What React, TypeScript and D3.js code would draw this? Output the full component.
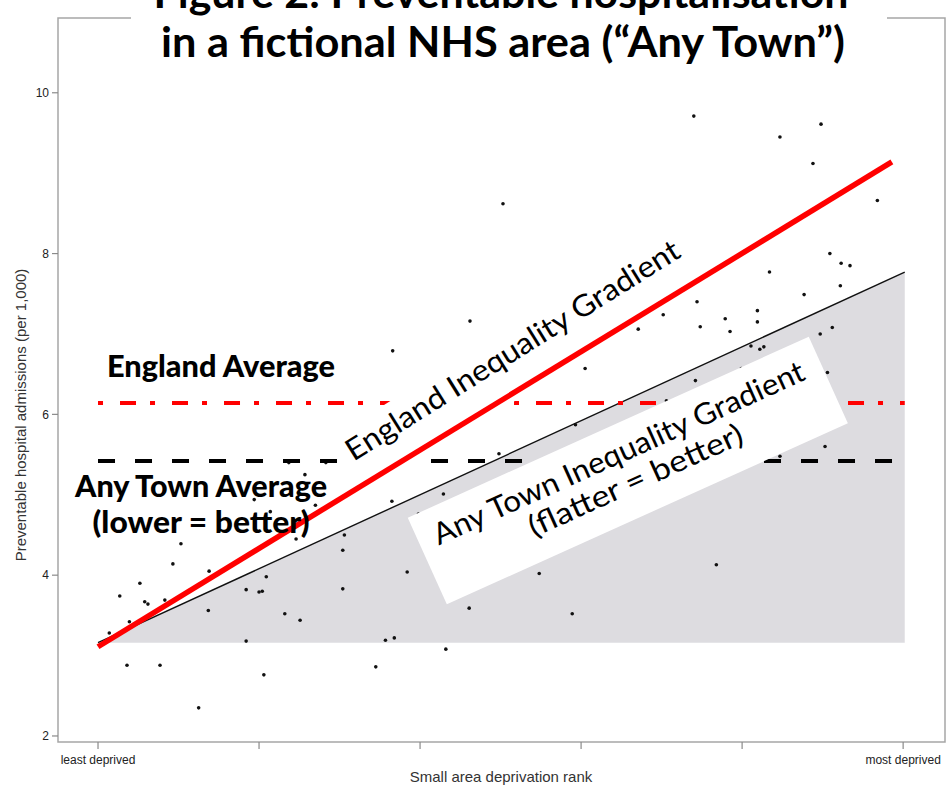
import * as d3 from 'd3';

// deprivation rank runs 0 (least deprived) .. 100 (most deprived)
const rankTicks = [0, 20, 40, 60, 80, 100];
const rankTickLabels = ['least deprived', '', '', '', '', 'most deprived'];
const rateTicks = [2, 4, 6, 8, 10];

// small areas in Any Town
const areaRank = [
  74.0, 89.8, 84.7, 88.8, 96.8, 50.3, 46.2, 36.6, 90.9, 92.3,
  93.4, 83.4, 92.2, 87.7, 74.4, 70.2, 81.9, 77.9, 81.9, 67.1,
  74.8, 78.5, 89.7, 91.2, 81.1, 82.2, 82.7, 60.5, 79.9, 74.2,
  90.6, 70.6, 59.3, 90.3, 49.8, 46.3, 42.9, 36.5, 39.8, 38.4,
  54.8, 76.8, 46.1, 58.9, 35.7, 36.8, 43.2, 21.4, 27.0, 24.6,
  10.3, 30.6, 30.4, 9.3, 13.8, 5.2, 2.7, 5.8, 6.2, 8.3,
  20.9, 18.4, 20.0, 20.4, 30.4, 13.7, 23.2, 25.1, 3.9, 1.4,
  18.4, 3.6, 7.7, 34.5, 20.6, 12.5, 23.7, 28.3, 25.7, 19.4,
  84.7,
];
const areaRate = [
  9.71, 9.61, 9.45, 9.12, 8.66, 8.62, 7.16, 6.79, 8.00, 7.88,
  7.85, 7.77, 7.60, 7.49, 7.40, 7.24, 7.29, 7.19, 7.15, 7.06,
  7.09, 7.03, 7.00, 7.08, 6.85, 6.81, 6.84, 6.57, 6.57, 6.42,
  6.52, 6.17, 5.87, 5.60, 5.51, 5.42, 5.01, 4.92, 4.76, 4.04,
  4.02, 4.13, 3.59, 3.52, 3.19, 3.22, 3.08, 4.79, 4.87, 4.45,
  4.39, 4.50, 4.31, 4.14, 4.05, 3.90, 3.74, 3.67, 3.64, 3.69,
  3.98, 3.82, 3.79, 3.80, 3.83, 3.56, 3.52, 3.44, 3.42, 3.28,
  3.18, 2.88, 2.88, 2.86, 2.76, 2.35, 5.40, 5.40, 5.25, 4.94,
  5.48,
];

const englandGradientRank = [0, 98.6];
const englandGradientRate = [3.11, 9.14];
const anyTownGradientRank = [0, 100.2];
const anyTownGradientRate = [3.16, 7.77];
const englandAverage = 6.14;
const anyTownAverage = 5.42;

const W = 949;
const H = 789;
const plot = { left: 58, right: 945, top: 18, bottom: 742 };

const sans = "'Liberation Sans', Arial, sans-serif";
const label = "Lato, 'Open Sans', sans-serif";

export default function App() {
  const x = d3.scaleLinear().domain([-4.97, 105.2]).range([plot.left, plot.right]);
  const y = d3.scaleLinear().domain([1.925, 10.93]).range([plot.bottom, plot.top]);

  const seg = (rk: number[], rt: number[]) =>
    d3.line<number>().x(i => x(rk[i])).y(i => y(rt[i]))([0, 1]) ?? '';

  const floor = anyTownGradientRate[0];
  const fill = d3.area<number>()
    .x(i => x(anyTownGradientRank[i]))
    .y0(() => y(floor))
    .y1(i => y(anyTownGradientRate[i]))([0, 1]) ?? '';

  const avgStart = x(0);
  const avgEnd = x(anyTownGradientRank[1]);

  return (
    <svg width={W} height={H} style={{ position: 'absolute', left: 0, top: 0, background: '#fff' }}>
      {/* panel frame */}
      <rect x={plot.left} y={plot.top} width={plot.right - plot.left} height={plot.bottom - plot.top}
        fill="none" stroke="#a6a6a6" strokeWidth={1.5} />

      <path d={fill} fill="#dddce0" />

      {areaRank.map((r, i) => (
        <circle key={i} cx={x(r)} cy={y(areaRate[i])} r={1.8} fill="#111" />
      ))}

      <path d={seg(anyTownGradientRank, anyTownGradientRate)} stroke="#111" strokeWidth={1.4} fill="none" />

      <line x1={avgStart} x2={avgEnd} y1={y(englandAverage)} y2={y(englandAverage)}
        stroke="#ff0000" strokeWidth={4} strokeDasharray="5 17 16 14" />
      <line x1={avgStart} x2={avgEnd} y1={y(anyTownAverage)} y2={y(anyTownAverage)}
        stroke="#000" strokeWidth={4} strokeDasharray="17 20" />

      {/* white label boxes */}
      <g transform="translate(518,359) rotate(-32)">
        <rect x={-205} y={-32} width={410} height={66} fill="#fff" />
      </g>
      <g transform="translate(628,471) rotate(-24.3)">
        <rect x={-220} y={-48} width={440} height={95} fill="#fff" />
      </g>

      <path d={seg(englandGradientRank, englandGradientRate)} stroke="#ff0000" strokeWidth={5.5} fill="none" />

      <g transform="translate(518,359) rotate(-32)">
        <text x={0} y={0} textAnchor="middle" fontFamily={label} fontSize={30}
          textLength={388} lengthAdjust="spacingAndGlyphs" fill="#000">England Inequality Gradient</text>
      </g>
      <g transform="translate(628,471) rotate(-24.3)">
        <text x={-1} y={-10} textAnchor="middle" fontFamily={label} fontSize={30}
          textLength={404} lengthAdjust="spacingAndGlyphs" fill="#000">Any Town Inequality Gradient</text>
        <text x={3} y={22} textAnchor="middle" fontFamily={label} fontSize={30}
          textLength={232} lengthAdjust="spacingAndGlyphs" fill="#000">(flatter = better)</text>
      </g>

      <text x={221} y={377} textAnchor="middle" fontFamily={label} fontWeight={900} fontSize={30}
        textLength={228} lengthAdjust="spacingAndGlyphs" fill="#000">England Average</text>
      <text x={201} y={497} textAnchor="middle" fontFamily={label} fontWeight={900} fontSize={30}
        textLength={252} lengthAdjust="spacingAndGlyphs" fill="#000">Any Town Average</text>
      <text x={201} y={533} textAnchor="middle" fontFamily={label} fontWeight={900} fontSize={30}
        textLength={217} lengthAdjust="spacingAndGlyphs" fill="#000">(lower = better)</text>

      {/* y axis */}
      {rateTicks.map(t => (
        <g key={t} transform={`translate(0,${y(t)})`}>
          <line x1={plot.left - 6} x2={plot.left} stroke="#8a8a8a" strokeWidth={1.2} />
          <text x={plot.left - 9} dy="0.35em" textAnchor="end" fontFamily={sans} fontSize={12} fill="#222">{t}</text>
        </g>
      ))}
      <text transform={`translate(26,415) rotate(-90)`} textAnchor="middle" fontFamily={sans} fontSize={15}
        fill="#333">Preventable hospital admissions (per 1,000)</text>

      {/* x axis */}
      {rankTicks.map((t, i) => (
        <g key={t} transform={`translate(${x(t)},0)`}>
          <line y1={plot.bottom} y2={plot.bottom + 7} stroke="#8a8a8a" strokeWidth={1.2} />
          <text y={plot.bottom + 22} textAnchor="middle" fontFamily={sans} fontSize={12}
            fill="#222">{rankTickLabels[i]}</text>
        </g>
      ))}
      <text x={501} y={782} textAnchor="middle" fontFamily={sans} fontSize={15} fill="#333">
        Small area deprivation rank</text>

      {/* title, top line cut off by the frame of the original slide */}
      <rect x={131} y={0} width={756} height={70} fill="#fff" />
      <text x={501} y={8} textAnchor="middle" fontFamily={label} fontWeight="bold" fontSize={42}
        textLength={695} lengthAdjust="spacingAndGlyphs" fill="#000">Figure 2: Preventable hospitalisation</text>
      <text x={503} y={57} textAnchor="middle" fontFamily={label} fontWeight="bold" fontSize={42}
        textLength={684} lengthAdjust="spacingAndGlyphs" fill="#000">in a fictional NHS area (“Any Town”)</text>
    </svg>
  );
}
